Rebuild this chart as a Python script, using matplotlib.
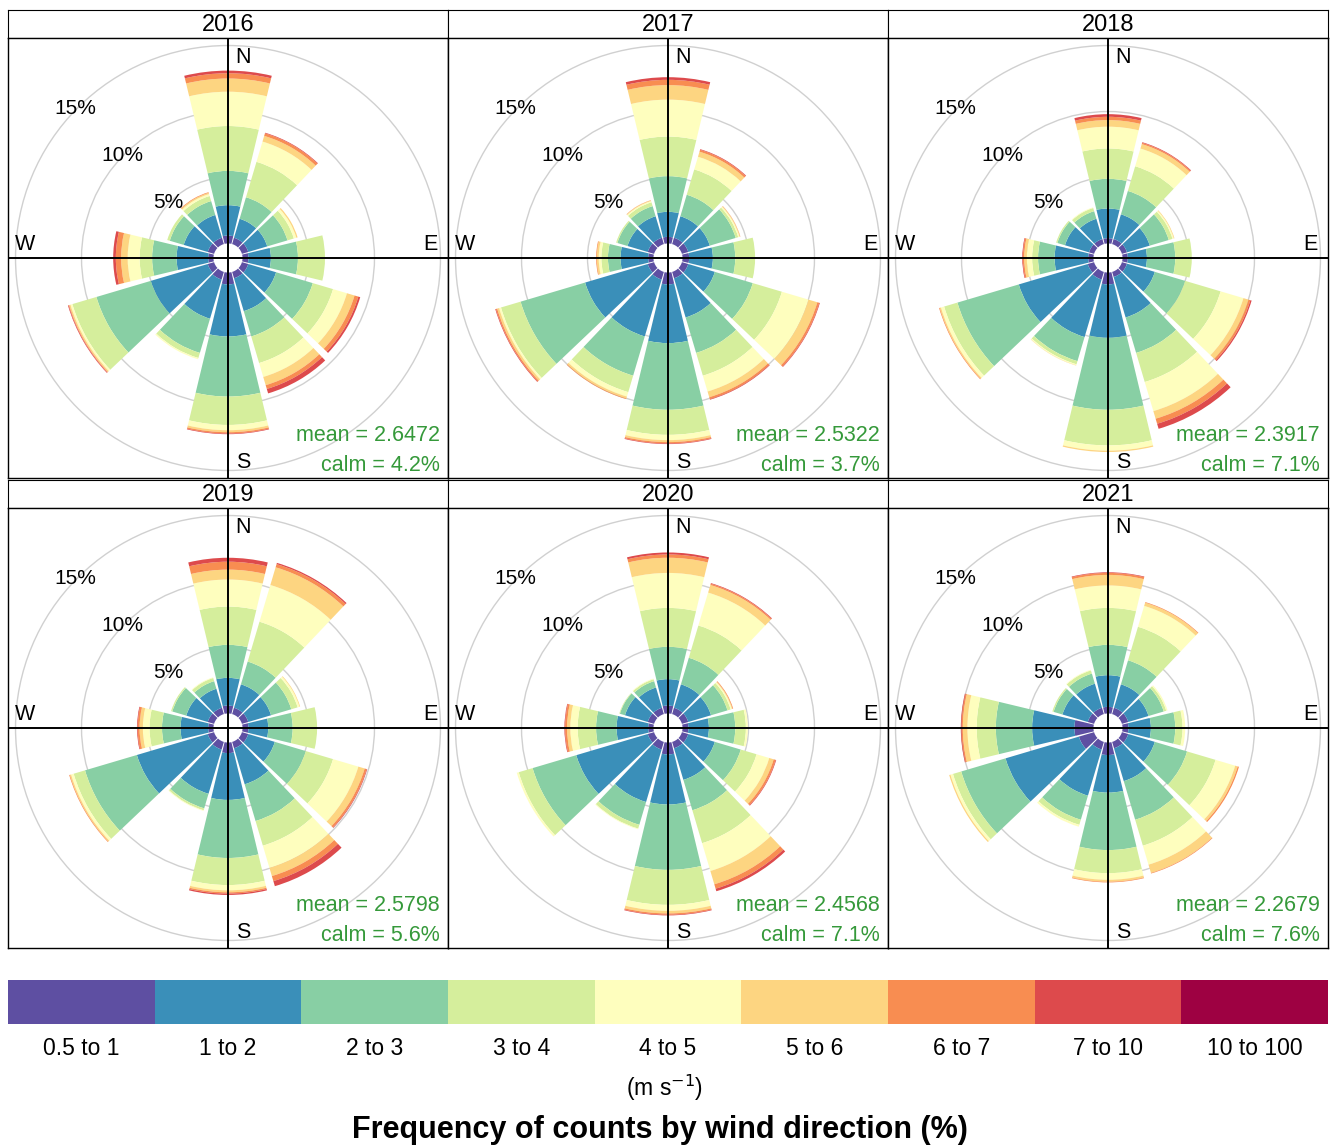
import numpy as np
import matplotlib
matplotlib.use("Agg")
import matplotlib.pyplot as plt
from matplotlib.patches import Wedge, Circle

plt.rcParams['font.family'] = ['Liberation Sans', 'DejaVu Sans']

years = ["2016", "2017", "2018", "2019", "2020", "2021"]
directions = [0, 30, 60, 90, 120, 150, 180, 210, 240, 270, 300, 330]
speed_bins = ["0.5 to 1", "1 to 2", "2 to 3", "3 to 4", "4 to 5",
              "5 to 6", "6 to 7", "7 to 10", "10 to 100"]
bin_colors = ["#5E4FA2", "#3A8FB9", "#88CFA4", "#D5EE9C", "#FEFEBE",
              "#FDD581", "#F88D51", "#DD4A4C", "#9E0142"]

# cumulative frequency (%) per direction, stacked over the speed bins
cum_2016 = [
    [0.6, 2.9, 5.5, 8.9, 11.5, 12.5, 12.9, 13.1, 13.1],
    [0.5, 2.0, 3.7, 6.5, 8.1, 8.55, 8.75, 8.8, 8.8],
    [0.5, 2.0, 3.6, 4.1, 4.3, 4.4, 4.4, 4.4, 4.4],
    [0.45, 2.15, 4.2, 6.25, 6.25, 6.25, 6.25, 6.25, 6.25],
    [0.5, 2.7, 5.6, 7.2, 8.3, 8.9, 9.2, 9.35, 9.35],
    [0.5, 3.1, 5.1, 7.2, 8.3, 8.95, 9.25, 9.6, 9.6],
    [0.9, 4.85, 9.4, 11.55, 11.95, 12.1, 12.2, 12.25, 12.25],
    [0.6, 3.7, 6.4, 6.8, 6.9, 6.9, 6.9, 6.9, 6.9],
    [0.5, 5.0, 9.3, 11.2, 11.35, 11.45, 11.5, 11.55, 11.55],
    [0.4, 2.8, 4.65, 5.6, 6.5, 7.0, 7.4, 7.6, 7.6],
    [0.5, 2.4, 3.5, 3.7, 3.7, 3.7, 3.7, 3.7, 3.7],
    [0.5, 2.3, 3.4, 3.8, 3.95, 4.05, 4.1, 4.1, 4.1],
]
cum_2017 = [
    [0.5, 2.4, 5.1, 8.1, 10.9, 12.0, 12.4, 12.6, 12.6],
    [0.5, 2.2, 3.9, 5.9, 6.9, 7.3, 7.45, 7.5, 7.5],
    [0.5, 2.2, 4.25, 4.45, 4.55, 4.6, 4.62, 4.62, 4.62],
    [0.5, 2.3, 4.0, 5.5, 5.5, 5.5, 5.5, 5.5, 5.5],
    [0.5, 2.6, 5.6, 7.9, 10.0, 10.7, 10.85, 10.9, 10.9],
    [0.5, 3.6, 6.4, 8.2, 9.45, 9.9, 10.05, 10.1, 10.1],
    [0.9, 5.35, 10.4, 12.3, 12.7, 12.85, 12.95, 13.0, 13.0],
    [0.6, 5.1, 8.2, 9.5, 9.85, 10.0, 10.05, 10.05, 10.05],
    [0.5, 5.45, 10.55, 12.1, 12.25, 12.4, 12.5, 12.55, 12.55],
    [0.4, 2.5, 3.45, 3.95, 4.15, 4.3, 4.35, 4.35, 4.35],
    [0.5, 2.1, 2.9, 3.0, 3.0, 3.0, 3.0, 3.0, 3.0],
    [0.5, 2.2, 3.0, 3.3, 3.4, 3.45, 3.47, 3.47, 3.47],
]
cum_2018 = [
    [0.4, 2.65, 4.9, 7.2, 8.85, 9.35, 9.6, 9.8, 9.8],
    [0.4, 2.35, 4.2, 6.15, 7.55, 7.9, 8.0, 8.05, 8.05],
    [0.4, 2.2, 3.7, 4.0, 4.1, 4.15, 4.15, 4.15, 4.15],
    [0.4, 1.85, 4.0, 5.25, 5.25, 5.25, 5.25, 5.25, 5.25],
    [0.4, 2.6, 5.0, 7.8, 9.6, 10.0, 10.15, 10.25, 10.25],
    [0.4, 3.6, 6.4, 8.7, 11.0, 11.6, 12.0, 12.4, 12.4],
    [0.9, 4.95, 10.4, 13.1, 13.5, 13.6, 13.6, 13.6, 13.6],
    [0.6, 5.15, 7.05, 7.3, 7.38, 7.4, 7.4, 7.4, 7.4],
    [0.5, 5.95, 10.8, 11.85, 12.1, 12.2, 12.25, 12.25, 12.25],
    [0.4, 2.95, 4.2, 4.65, 5.05, 5.25, 5.35, 5.4, 5.4],
    [0.4, 2.3, 2.9, 3.0, 3.0, 3.0, 3.0, 3.0, 3.0],
    [0.4, 2.0, 2.6, 2.85, 2.9, 2.9, 2.9, 2.9, 2.9],
]
cum_2019 = [
    [0.6, 2.7, 5.2, 8.1, 10.15, 10.9, 11.5, 11.8, 11.8],
    [0.5, 2.35, 4.15, 7.3, 10.2, 11.6, 11.85, 11.95, 11.95],
    [0.5, 2.3, 3.9, 4.4, 4.55, 4.6, 4.6, 4.6, 4.6],
    [0.45, 1.95, 3.8, 5.65, 5.65, 5.65, 5.65, 5.65, 5.65],
    [0.5, 2.6, 5.05, 7.2, 9.2, 9.7, 9.85, 9.9, 9.9],
    [0.5, 3.35, 6.25, 8.2, 9.95, 10.6, 11.0, 11.4, 11.4],
    [0.8, 4.35, 8.75, 10.8, 11.2, 11.35, 11.45, 11.55, 11.55],
    [0.6, 4.1, 5.25, 5.4, 5.45, 5.45, 5.45, 5.45, 5.45],
    [0.5, 6.1, 10.2, 11.1, 11.3, 11.4, 11.45, 11.45, 11.45],
    [0.4, 2.5, 3.9, 4.85, 5.35, 5.6, 5.75, 5.8, 5.8],
    [0.5, 2.2, 3.3, 3.4, 3.4, 3.4, 3.4, 3.4, 3.4],
    [0.5, 2.0, 2.6, 2.85, 2.9, 2.9, 2.9, 2.9, 2.9],
]
cum_2020 = [
    [0.6, 2.6, 5.05, 8.0, 10.65, 11.8, 12.05, 12.2, 12.2],
    [0.5, 2.35, 4.45, 7.0, 9.6, 10.2, 10.3, 10.35, 10.35],
    [0.5, 2.3, 3.6, 3.85, 3.95, 4.0, 4.05, 4.05, 4.05],
    [0.45, 2.0, 4.0, 4.8, 4.95, 4.95, 4.95, 4.95, 4.95],
    [0.5, 2.6, 4.65, 5.9, 6.9, 7.25, 7.4, 7.45, 7.45],
    [0.5, 3.0, 5.4, 8.0, 10.2, 11.25, 11.6, 11.8, 11.8],
    [0.9, 4.7, 9.65, 12.3, 12.75, 12.95, 13.05, 13.1, 13.1],
    [0.6, 4.75, 6.55, 6.85, 6.9, 6.9, 6.9, 6.9, 6.9],
    [0.5, 6.15, 9.6, 10.7, 10.85, 10.85, 10.85, 10.85, 10.85],
    [0.4, 2.8, 4.35, 5.75, 6.3, 6.55, 6.7, 6.75, 6.75],
    [0.5, 2.3, 2.7, 2.75, 2.75, 2.75, 2.75, 2.75, 2.75],
    [0.5, 2.1, 2.6, 2.75, 2.8, 2.8, 2.8, 2.8, 2.8],
]
cum_2021 = [
    [0.5, 2.9, 5.2, 8.0, 9.7, 10.5, 10.65, 10.7, 10.7],
    [0.5, 2.35, 4.25, 6.9, 8.55, 8.8, 8.85, 8.85, 8.85],
    [0.5, 2.1, 3.3, 3.5, 3.6, 3.6, 3.6, 3.6, 3.6],
    [0.45, 2.15, 4.0, 4.55, 4.75, 4.75, 4.75, 4.75, 4.75],
    [0.5, 2.6, 5.15, 7.4, 8.95, 9.15, 9.25, 9.25, 9.25],
    [0.5, 3.1, 6.15, 8.2, 9.7, 10.35, 10.4, 10.4, 10.4],
    [0.95, 3.8, 8.15, 9.9, 10.4, 10.55, 10.6, 10.6, 10.6],
    [0.6, 4.25, 6.15, 6.55, 6.7, 6.7, 6.7, 6.7, 6.7],
    [1.2, 7.0, 10.5, 11.15, 11.35, 11.45, 11.45, 11.45, 11.45],
    [1.45, 4.65, 7.4, 8.85, 9.55, 9.9, 10.0, 10.05, 10.05],
    [0.5, 2.5, 3.2, 3.3, 3.3, 3.3, 3.3, 3.3, 3.3],
    [0.5, 2.4, 3.2, 3.45, 3.5, 3.5, 3.5, 3.5, 3.5],
]
cum_by_year = [cum_2016, cum_2017, cum_2018, cum_2019, cum_2020, cum_2021]
mean_ws = ["2.6472", "2.5322", "2.3917", "2.5798", "2.4568", "2.2679"]
calm_pct = ["4.2", "3.7", "7.1", "5.6", "7.1", "7.6"]
grid_levels = [5, 10, 15]

W, H = 1335, 1146
fig = plt.figure(figsize=(W / 100, H / 100), dpi=100)


def px_axes(x0, y0, w, h):
    return fig.add_axes([x0 / W, 1 - (y0 + h) / H, w / W, h / H])


HOLE = 1.1      # white centre offset, in % units
LIM = 16.67     # half-width of a panel in % units
HALF = 13.5     # half-width of each paddle in degrees
green = "#35993A"

for i, year in enumerate(years):
    row, col = divmod(i, 3)
    x0 = 8 + 440 * col
    y0 = 10 + 470 * row

    strip = px_axes(x0, y0, 440, 28)
    strip.set_xticks([])
    strip.set_yticks([])
    strip.text(0.5, 0.47, year, ha="center", va="center", fontsize=17,
               transform=strip.transAxes)

    ax = px_axes(x0, y0 + 28, 440, 440)
    ax.set_xlim(-LIM, LIM)
    ax.set_ylim(-LIM, LIM)
    ax.set_xticks([])
    ax.set_yticks([])
    for s in ax.spines.values():
        s.set_linewidth(1.0)

    for g in grid_levels:
        ax.add_patch(Circle((0, 0), HOLE + g, fill=False, edgecolor="#D0D0D0",
                            linewidth=1.0, zorder=1))
        a = np.deg2rad(135)
        ax.text((HOLE + g + 0.25) * np.cos(a), (HOLE + g + 0.25) * np.sin(a) - 0.25,
                f"{g}%", ha="center", va="center", fontsize=15, zorder=4)

    for d, cum in zip(directions, cum_by_year[i]):
        inner = 0.0
        for k, c in enumerate(cum):
            if c > inner:
                ax.add_patch(Wedge((0, 0), HOLE + c, 90 - d - HALF, 90 - d + HALF,
                                   width=c - inner, facecolor=bin_colors[k],
                                   edgecolor="none", zorder=2))
            inner = c

    ax.axhline(0, color="black", linewidth=1.4, zorder=3)
    ax.axvline(0, color="black", linewidth=1.4, zorder=3)
    ax.text(1.15, 15.2, "N", ha="center", va="center", fontsize=15.5)
    ax.text(1.15, -15.5, "S", ha="center", va="center", fontsize=15.5)
    ax.text(-15.4, 1.05, "W", ha="center", va="center", fontsize=15.5)
    ax.text(15.35, 1.05, "E", ha="center", va="center", fontsize=15.5)

    ax.text(0.982, 0.096, f"mean = {mean_ws[i]}", ha="right", va="center",
            fontsize=15.5, color=green, transform=ax.transAxes)
    ax.text(0.982, 0.028, f"calm = {calm_pct[i]}%", ha="right", va="center",
            fontsize=15.5, color=green, transform=ax.transAxes)

# colour key
key = px_axes(8, 980, 1320, 44)
key.bar(np.arange(len(speed_bins)), 1, width=1.0, color=bin_colors, align="center")
key.set_xlim(-0.5, len(speed_bins) - 0.5)
key.set_ylim(0, 1)
key.axis("off")
for k, lab in enumerate(speed_bins):
    key.text(k, -0.55, lab, ha="center", va="center", fontsize=16.5)
key.text(0.497, -1.45, r"(m s$^{-1}$)", ha="center", va="center", fontsize=16.5,
         transform=key.transAxes)

fig.text(660 / W, 1 - 1130 / H, "Frequency of counts by wind direction (%)",
         ha="center", va="center", fontsize=22, fontweight="bold")

fig.savefig("out.png", dpi=100)
